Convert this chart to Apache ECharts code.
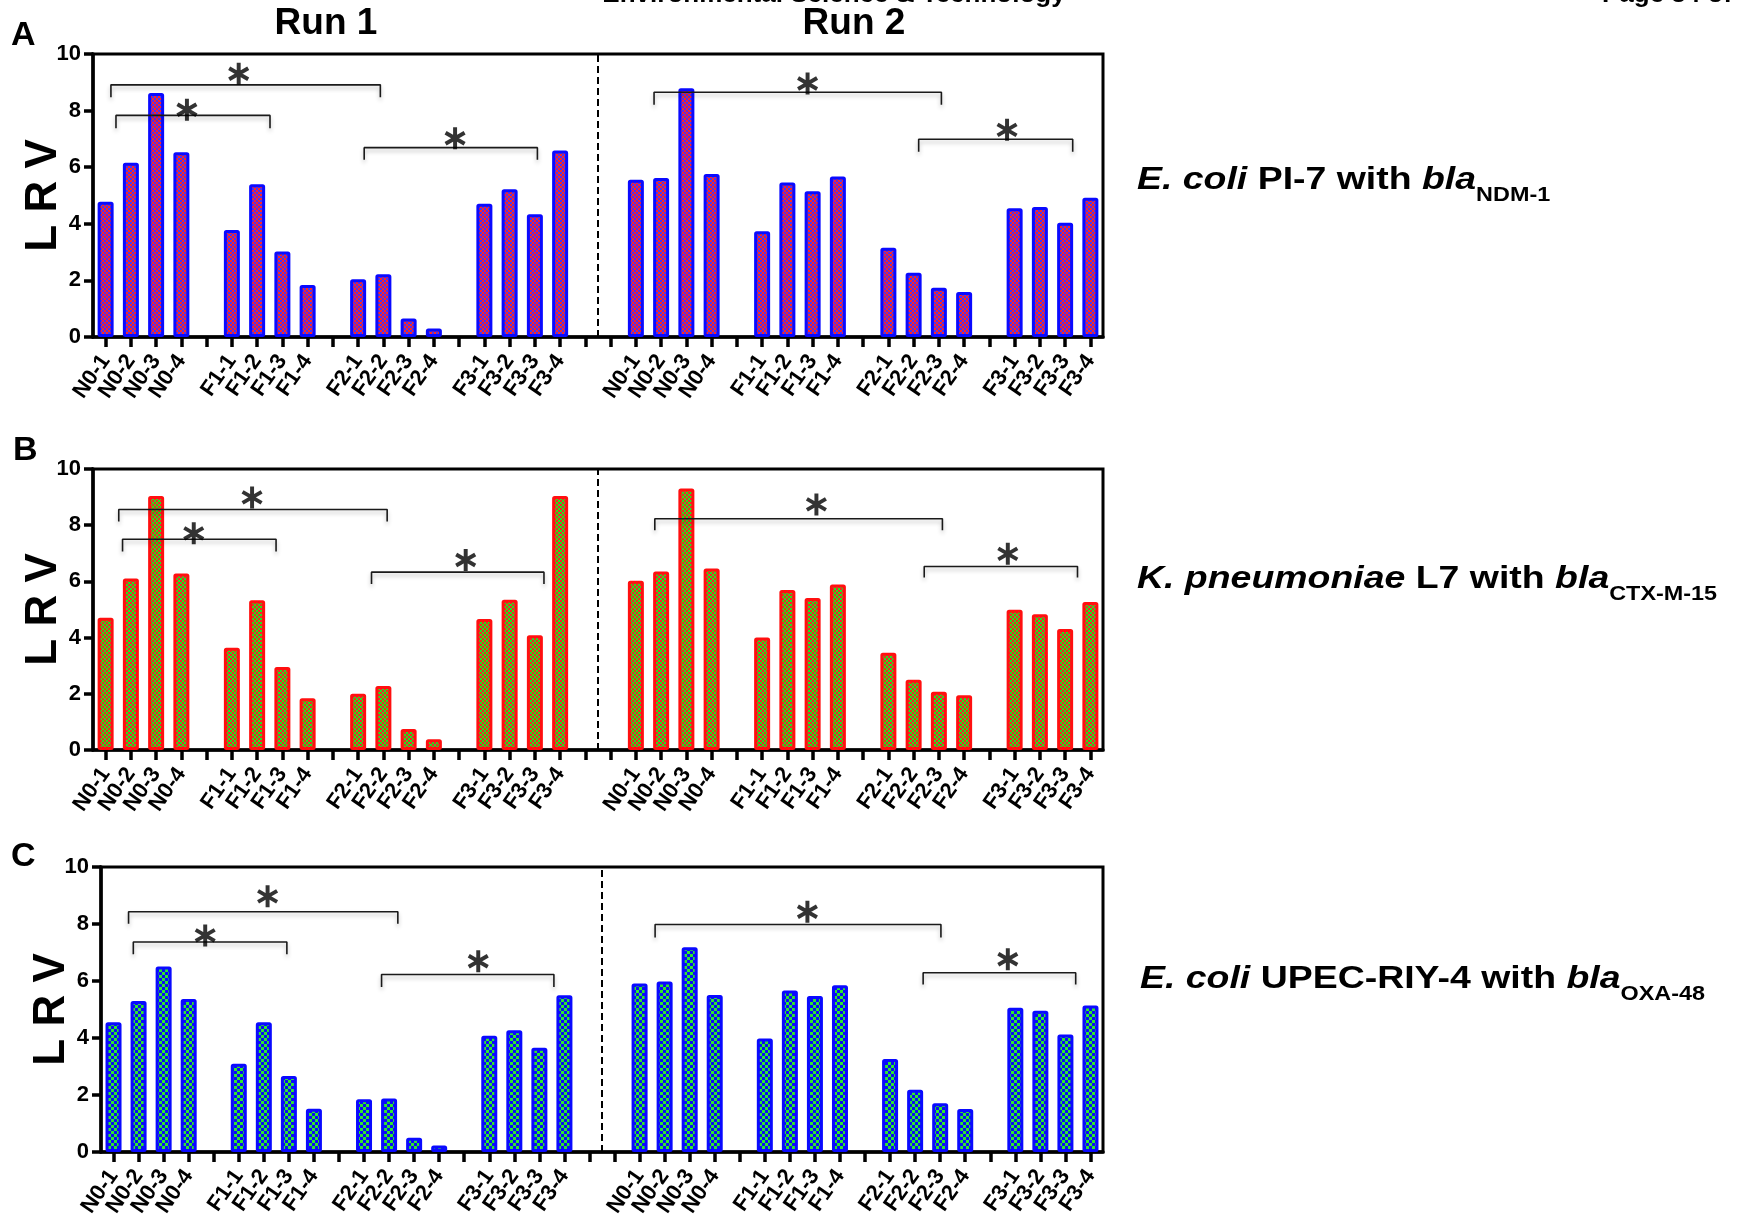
<!DOCTYPE html>
<html>
<head>
<meta charset="utf-8">
<script src="https://cdn.jsdelivr.net/npm/echarts@6/dist/echarts.min.js"></script>
<style>
html,body{margin:0;padding:0;background:#fff;}
#chart{width:1742px;height:1223px;}
</style>
</head>
<body>
<div id="chart"></div>
<script>
// ---------------- DATA ----------------
const categories = ['N0-1','N0-2','N0-3','N0-4','F1-1','F1-2','F1-3','F1-4','F2-1','F2-2','F2-3','F2-4','F3-1','F3-2','F3-3','F3-4'];
const runs = ['Run 1','Run 2'];
const yTicks = [0,2,4,6,8,10];

const A_run1 = [4.78,6.16,8.62,6.53, 3.78,5.40,3.02,1.84, 2.04,2.22,0.65,0.30, 4.71,5.22,4.34,6.59];
const A_run2 = [5.56,5.62,8.79,5.76, 3.74,5.46,5.15,5.67, 3.15,2.27,1.74,1.59, 4.55,4.59,4.04,4.92];
const B_run1 = [4.71,6.10,9.04,6.28, 3.64,5.33,2.95,1.84, 2.00,2.28,0.75,0.38, 4.66,5.35,4.08,9.04];
const B_run2 = [6.02,6.35,9.31,6.46, 4.00,5.69,5.41,5.89, 3.46,2.50,2.07,1.95, 4.99,4.83,4.31,5.27];
const C_run1 = [4.55,5.30,6.51,5.37, 3.10,4.55,2.67,1.52, 1.85,1.88,0.50,0.23, 4.08,4.27,3.66,5.50];
const C_run2 = [5.91,5.98,7.18,5.51, 3.98,5.67,5.47,5.85, 3.26,2.18,1.71,1.51, 5.06,4.96,4.12,5.14];

// significance brackets: [xStart, xEnd, yTop, yEnd, starX, starY] (x in category-slot units)
const A_brackets = [
  [0.21,10.88,8.91,8.47,5.27,9.30],
  [0.41,6.51,7.83,7.38,3.22,8.03],
  [10.24,17.10,6.69,6.26,13.84,7.02],
  [21.72,33.10,8.65,8.21,27.80,8.96],
  [32.20,38.30,6.99,6.55,35.70,7.32]
];
const B_brackets = [
  [0.52,11.15,8.56,8.13,5.80,8.99],
  [0.67,6.75,7.50,7.06,3.49,7.71],
  [10.53,17.36,6.33,5.91,14.26,6.76],
  [21.75,33.14,8.23,7.82,28.15,8.74],
  [32.42,38.49,6.53,6.14,35.73,6.98]
];
const C_brackets = [
  [0.60,11.35,8.43,8.01,6.15,8.97],
  [0.79,6.92,7.37,6.94,3.66,7.60],
  [10.70,17.58,6.23,5.79,14.56,6.69],
  [21.62,33.03,7.98,7.53,27.70,8.43],
  [32.32,38.41,6.29,5.88,35.70,6.76]
];
const dividerX = 19.5;

// ---------------- BUILD ----------------
const NSLOT = 40;
function slotIndex(run, i){ return run*21 + Math.floor(i/4)*5 + (i%4); }
const axisLabels = new Array(NSLOT).fill('');
for (let r=0;r<2;r++) categories.forEach((c,i)=>{ axisLabels[slotIndex(r,i)] = c; });
function fullRow(r1, r2){
  const out = new Array(NSLOT).fill('-');
  r1.forEach((v,i)=>{ out[slotIndex(0,i)] = v; });
  r2.forEach((v,i)=>{ out[slotIndex(1,i)] = v; });
  return out;
}
function checker(c1, c2, cell){
  const tile = cell*2;
  const cv = document.createElement('canvas');
  cv.width = cv.height = tile;
  const ctx = cv.getContext('2d');
  ctx.fillStyle = c1; ctx.fillRect(0,0,tile,tile);
  ctx.fillStyle = c2;
  ctx.fillRect(0,0,cell,cell);
  ctx.fillRect(cell,cell,cell,cell);
  return cv;
}
const FONT = 'Liberation Sans, Arial, sans-serif';
const STAR = 'path://M-1.8 -10 L1.8 -10 L1.8 10 L-1.8 10 Z M-9.56 -3.44 L-7.76 -6.56 L9.56 3.44 L7.76 6.56 Z M-7.76 6.56 L-9.56 3.44 L7.76 -6.56 L9.56 -3.44 Z';

const panels = [
  {grid:{left:93, top:54, width:1010, height:283}, r1:A_run1, r2:A_run2, br:A_brackets,
   fill:checker('#ff2424','#4a34f0',2), border:'#0a0aff'},
  {grid:{left:93, top:469, width:1010, height:281}, r1:B_run1, r2:B_run2, br:B_brackets,
   fill:checker('#1ee61e','#f02828',2), border:'#ff1010'},
  {grid:{left:101, top:867, width:1002, height:285}, r1:C_run1, r2:C_run2, br:C_brackets,
   fill:checker('#0c0cf4','#2ee82e',3), border:'#0a0aff'}
];

const grid=[], xAxis=[], yAxis=[], series=[];
panels.forEach((p,g)=>{
  grid.push(Object.assign({show:true, borderColor:'#000', borderWidth:3, backgroundColor:'transparent'}, p.grid));
  xAxis.push({
    type:'category', gridIndex:g, data:axisLabels, boundaryGap:true,
    axisLine:{show:true, onZero:false, lineStyle:{color:'#000', width:3.5}},
    axisTick:{show:true, alignWithLabel:true, interval:0, length:10, lineStyle:{color:'#000', width:3.5}},
    axisLabel:{interval:0, rotate:55, fontSize:22, fontWeight:'bold', color:'#000', margin:20, fontFamily:FONT},
    splitLine:{show:false}
  });
  xAxis.push({type:'value', gridIndex:g, min:-0.5, max:39.5, show:false});
  yAxis.push({
    type:'value', gridIndex:g, min:yTicks[0], max:yTicks[yTicks.length-1], interval:2,
    splitLine:{show:false},
    axisLine:{show:true, onZero:false, lineStyle:{color:'#000', width:3.5}},
    axisTick:{show:true, length:9, lineStyle:{color:'#000', width:3.5}},
    axisLabel:{fontSize:22, fontWeight:'bold', color:'#000', margin:12, fontFamily:FONT},
    name:'L R V', nameLocation:'middle', nameRotate:90, nameGap:27, nameMoveOverlap:false,
    nameTextStyle:{fontSize:44, fontWeight:'bold', color:'#000', fontFamily:FONT}
  });
  series.push({
    type:'bar', xAxisIndex:g*2, yAxisIndex:g, data:fullRow(p.r1,p.r2), barWidth:16, z:2,
    itemStyle:{color:{image:p.fill, repeat:'repeat'}, borderColor:p.border, borderWidth:3, borderRadius:1},
    silent:true, animation:false
  });
  series.push({
    type:'line', xAxisIndex:g*2+1, yAxisIndex:g, data:[[dividerX,0],[dividerX,10]], symbol:'none', z:4,
    lineStyle:{color:'#000', width:2, type:[7,4]}, silent:true, animation:false
  });
  p.br.forEach(b=>{
    series.push({
      type:'line', xAxisIndex:g*2+1, yAxisIndex:g,
      data:[[b[0],b[3]],[b[0],b[2]],[b[1],b[2]],[b[1],b[3]]], symbol:'none', z:5,
      lineStyle:{color:'#1a1a1a', width:1.6, shadowColor:'rgba(0,0,0,0.28)', shadowBlur:4, shadowOffsetY:3},
      silent:true, animation:false
    });
  });
  series.push({
    type:'scatter', xAxisIndex:g*2+1, yAxisIndex:g, data:p.br.map(b=>[b[4],b[5]]),
    symbol:STAR, symbolSize:22, symbolKeepAspect:true, itemStyle:{color:'#000'}, z:6, silent:true, animation:false
  });
});

function t(text, left, top, size, align){
  return {text:text, left:left, top:top, padding:0, textAlign:align||'left',
    textStyle:{fontSize:size, lineHeight:size, fontWeight:'bold', color:'#000', fontFamily:FONT}};
}
const title = [
  t('A', 11, 19, 34), t('B', 13, 434, 34), t('C', 11, 840, 34),
  t(runs[0], 326, 5, 37, 'center'), t(runs[1], 854, 5, 37, 'center'),
  t('Environmental Science & Technology', 834, -18, 26, 'center'),
  t('Page 34 of', 1602, -18, 26)
];

const richDef = {
  i:{fontStyle:'italic', fontWeight:'bold', fontSize:32, lineHeight:32, verticalAlign:'top', fill:'#000', fontFamily:FONT},
  n:{fontWeight:'bold', fontSize:32, lineHeight:32, verticalAlign:'top', fill:'#000', fontFamily:FONT},
  s:{fontWeight:'bold', fontSize:20, lineHeight:41, verticalAlign:'bottom', fill:'#000', fontFamily:FONT}
};
function speciesLabel(text, x, y){
  return {type:'text', x:x, y:y, scaleX:1.17, z:10, silent:true,
    style:{text:text, rich:richDef, fontSize:32, fontWeight:'bold', fontFamily:FONT, lineHeight:32,
      fill:'#000', align:'left', verticalAlign:'top', textAlign:'left', textVerticalAlign:'top'}};
}
const graphic = [
  speciesLabel('{i|E. coli} {n|PI-7 with} {i|bla}{s|NDM-1}', 1137, 164),
  speciesLabel('{i|K. pneumoniae} {n|L7 with} {i|bla}{s|CTX-M-15}', 1137, 563),
  speciesLabel('{i|E. coli} {n|UPEC-RIY-4 with} {i|bla}{s|OXA-48}', 1140, 963)
];

const chart = echarts.init(document.getElementById('chart'), null, {renderer:'canvas'});
chart.setOption({animation:false, backgroundColor:'#fff', title, grid, xAxis, yAxis, series, graphic});
</script>
</body>
</html>
